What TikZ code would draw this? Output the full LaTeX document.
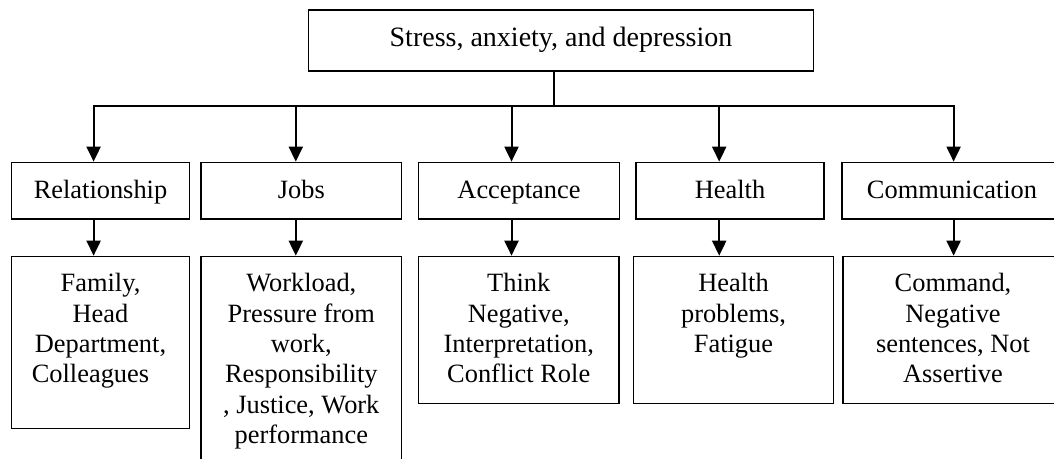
\documentclass[tikz,border=0pt]{standalone}
\usepackage{fontspec}
\setmainfont{Liberation Serif}
\usetikzlibrary{arrows.meta}
\begin{document}
\begin{tikzpicture}[x=0.5pt,y=-0.5pt,
    font=\fontsize{13.2}{15.2}\selectfont,
    box/.style={draw,line width=0.7pt,inner sep=0pt},
    cat/.style={box,minimum height=28.35pt,text height=9.3pt,text depth=1pt},
    item/.style={box,anchor=north,align=flush center,text height=17.65pt},
    link/.style={line width=1pt,line cap=rect},
    arr/.style={line width=1pt,-{Triangle[length=7.5pt,width=7pt]}}]
  \useasboundingbox (0,0) rectangle (1054,459);
  \clip (0,0) rectangle (1054,459);
  \node[box,minimum width=252.5pt,minimum height=30.5pt,text height=9.5pt,text depth=3.3pt,
    font=\fontsize{14}{16}\selectfont] (top) at (561,40.5) {Stress, anxiety, and depression};
  \node[cat,minimum width=88.75pt] (rel) at (100.5,190.7) {Relationship};
  \node[cat,minimum width=100.25pt] (jobs) at (301.3,190.7) {Jobs};
  \node[cat,minimum width=100.5pt] (acc) at (519,190.7) {Acceptance};
  \node[cat,minimum width=94pt] (hea) at (730,190.7) {Health};
  \node[cat,minimum width=110pt] (com) at (952,190.7) {Communication};
  \node[item,text width=88.75pt,text depth=68.35pt] (rel-d) at (100.5,255.7)
    {Family,\\ Head\\ Department,\\ \mbox{Colleagues\kern10pt}};
  \node[item,text width=100.25pt,text depth=94.35pt] (jobs-d) at (301.3,255.7)
    {Workload,\\ Pressure from\\ work,\\ Responsibility\\ , Justice, Work\\ performance};
  \node[item,text width=100.35pt,text depth=56pt] (acc-d) at (518.7,255.7)
    {Think\\ Negative,\\ Interpretation,\\ Conflict Role};
  \node[item,text width=100.15pt,text depth=56pt] (hea-d) at (733.5,255.7)
    {Health\\ problems,\\ Fatigue};
  \node[item,text width=110pt,text depth=56pt] (com-d) at (953,255.7)
    {Command,\\ Negative\\ sentences, Not\\ Assertive};
  \foreach \n/\x in {rel/93.6,jobs/295.8,acc/511.5,hea/719.2,com/953.6}{
    \coordinate (\n-x) at (\x,106.5);
    \draw[arr] (\n-x) -- (\n-x |- \n.north);
    \draw[arr] (\n-x |- \n.south) -- (\n-x |- \n-d.north);
  }
  \coordinate (bar) at (554,106.5);
  \draw[link] (bar |- top.south) -- (bar);
  \draw[link] (rel-x) -- (com-x);
\end{tikzpicture}
\end{document}
